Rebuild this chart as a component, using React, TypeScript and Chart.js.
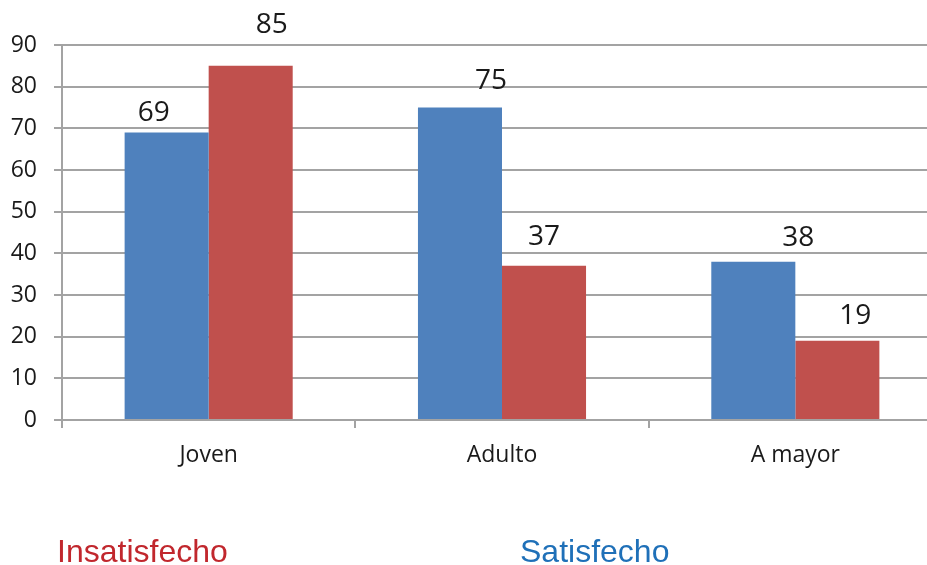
import React, { useEffect, useRef } from "react";
import { Chart, registerables } from "chart.js";

Chart.register(...registerables);

const categories = ["Joven", "Adulto", "A mayor"];
const satisfecho = [69, 75, 38];
const insatisfecho = [85, 37, 19];
const yTicks = [0, 10, 20, 30, 40, 50, 60, 70, 80, 90];

// label nudges (pixels) relative to bar top-center, [dataset][category]
const labelNudgeX = [[-13, 31, 45], [21, 0, 18]];
const labelNudgeY = [[-19, -26, -24], [-41, -29, -25]];

const BLUE = "#4F81BD";
const RED = "#C0504D";
const GRID = "#a3a3a3";

const valueLabels = {
  id: "valueLabels",
  afterDatasetsDraw(chart: any) {
    const ctx = chart.ctx;
    ctx.save();
    ctx.font = "28px 'Open Sans'";
    ctx.fillStyle = "#1a1a1a";
    ctx.textAlign = "center";
    ctx.textBaseline = "middle";
    chart.data.datasets.forEach((ds: any, di: number) => {
      const meta = chart.getDatasetMeta(di);
      meta.data.forEach((el: any, i: number) => {
        ctx.fillText(String(ds.data[i]), el.x + labelNudgeX[di][i], el.y + labelNudgeY[di][i]);
      });
    });
    ctx.restore();
  },
};

export default function App() {
  const ref = useRef<HTMLCanvasElement | null>(null);
  useEffect(() => {
    if (!ref.current) return;
    const chart = new Chart(ref.current, {
      type: "bar",
      data: {
        labels: categories,
        datasets: [
          { label: "Satisfecho", data: satisfecho, backgroundColor: BLUE, categoryPercentage: 0.573, barPercentage: 1 },
          { label: "Insatisfecho", data: insatisfecho, backgroundColor: RED, categoryPercentage: 0.573, barPercentage: 1 },
        ],
      },
      options: {
        animation: false,
        responsive: false,
        maintainAspectRatio: false,
        layout: { padding: { top: 45, right: 18, left: 0, bottom: 0 } },
        plugins: { legend: { display: false }, tooltip: { enabled: false } },
        scales: {
          x: {
            grid: { drawOnChartArea: false, drawTicks: true, tickLength: 8, color: GRID, lineWidth: 2, offset: true },
            border: { color: GRID, width: 2 },
            ticks: { color: "#1a1a1a", font: { family: "'Open Sans'", size: 23 }, padding: 14 },
            afterFit: (s: any) => { s.height = 145; },
          },
          y: {
            min: 0,
            max: 90,
            afterBuildTicks: (s: any) => { s.ticks = yTicks.map((v) => ({ value: v })); },
            grid: { color: GRID, lineWidth: 2, tickLength: 8 },
            border: { color: GRID, width: 2 },
            ticks: { color: "#1a1a1a", font: { family: "'Open Sans'", size: 23 }, padding: 17 },
            afterFit: (s: any) => { s.width = 62; },
          },
        },
      },
      plugins: [valueLabels],
    });
    return () => chart.destroy();
  }, []);
  return (
    <div style={{ position: "fixed", left: 0, top: 0, width: 927, height: 565, overflow: "hidden", background: "#fff" }}>
      <canvas ref={ref} width={960} height={565} style={{ position: "absolute", left: 0, top: 0 }} />
      <div style={{ position: "absolute", left: 57, top: 531, fontFamily: "'Liberation Sans', Arial, sans-serif", fontSize: 32, color: "#C1272D", lineHeight: "40px" }}>Insatisfecho</div>
      <div style={{ position: "absolute", left: 520, top: 531, fontFamily: "'Liberation Sans', Arial, sans-serif", fontSize: 32, color: "#1F70B8", lineHeight: "40px" }}>Satisfecho</div>
    </div>
  );
}
